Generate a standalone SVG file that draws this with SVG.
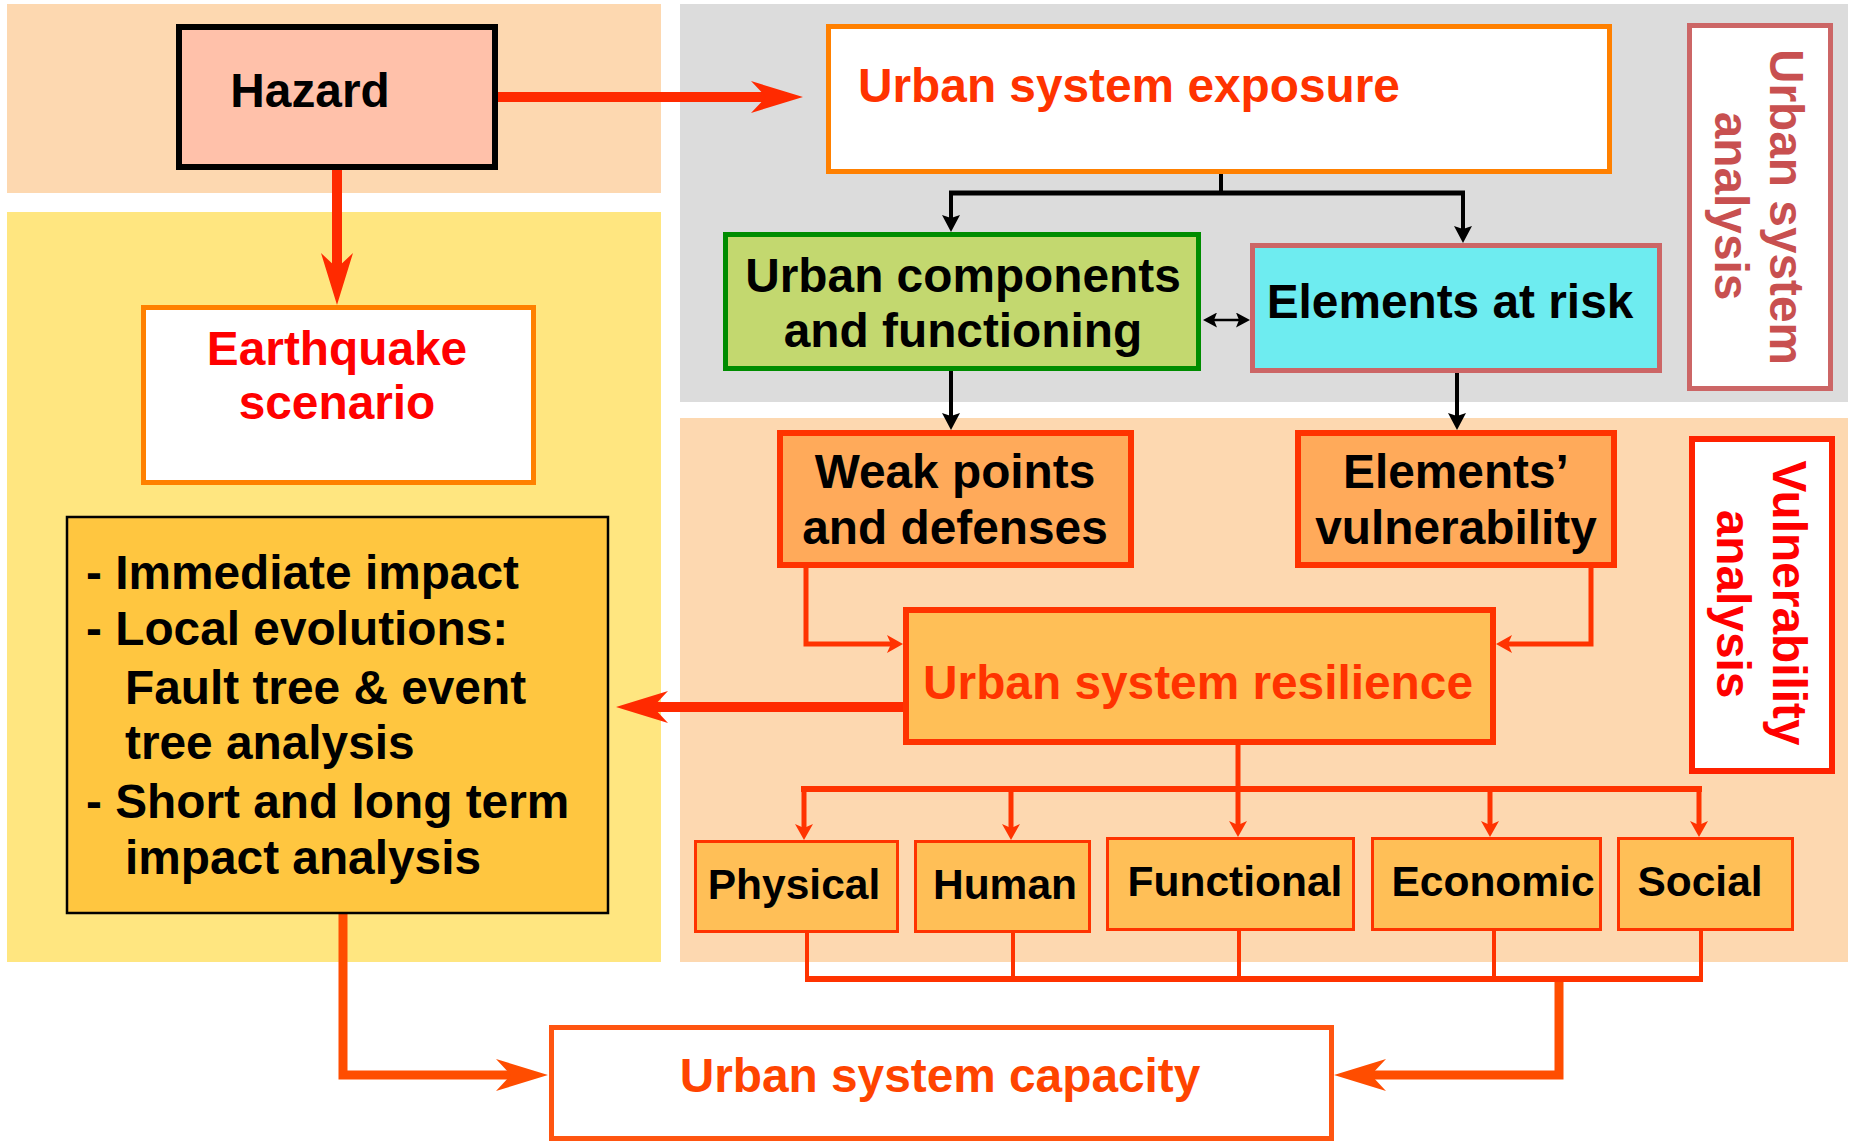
<svg xmlns="http://www.w3.org/2000/svg" width="1855" height="1147" viewBox="0 0 1855 1147">
<style>
text{font-family:"Liberation Sans",Arial,Helvetica,sans-serif;font-weight:bold;font-size:47.8px}
.c{text-anchor:middle}
.k{fill:#000}
.cat{font-size:42.5px;text-anchor:middle;fill:#000}
.ln{fill:none}
.red{stroke:#FF3300;stroke-width:5}
.hz{stroke:#FF2A00;stroke-width:10}
.cap{stroke:#FF4D00;stroke-width:9}
.blk{stroke:#000;stroke-width:4}
.catbox{fill:#FFBF57;stroke:#FF3300;stroke-width:3}
</style>
<defs>
<marker id="big" viewBox="0 0 52 32" markerWidth="52" markerHeight="32" refX="15" refY="16" orient="auto" markerUnits="userSpaceOnUse"><path d="M0,0 L52,16 L0,32 L15,16 Z" fill="#FF2A00"/></marker>
<marker id="bigc" viewBox="0 0 52 32" markerWidth="52" markerHeight="32" refX="15" refY="16" orient="auto" markerUnits="userSpaceOnUse"><path d="M0,0 L52,16 L0,32 L15,16 Z" fill="#FF4D00"/></marker>
<marker id="sm" viewBox="0 0 16 18" markerWidth="16" markerHeight="18" refX="4" refY="9" orient="auto" markerUnits="userSpaceOnUse"><path d="M0,0 L16,9 L0,18 L4,9 Z" fill="#FF3300"/></marker>
<marker id="bk" viewBox="0 0 17 18" markerWidth="17" markerHeight="18" refX="3" refY="9" orient="auto" markerUnits="userSpaceOnUse"><path d="M0,0 L17,9 L0,18 L3,9 Z" fill="#000"/></marker>
<marker id="tk" viewBox="0 0 14 15" markerWidth="14" markerHeight="15" refX="3" refY="7.5" orient="auto-start-reverse" markerUnits="userSpaceOnUse"><path d="M0,0 L14,7.5 L0,15 L3,7.5 Z" fill="#000"/></marker>
</defs>

<g id="backgrounds">
<rect x="7" y="4" width="654" height="189" fill="#FDD8B0"/>
<rect x="7" y="212" width="654" height="750" fill="#FFE680"/>
<rect x="680" y="4" width="1168" height="398" fill="#DCDCDC"/>
<rect x="680" y="418" width="1168" height="544" fill="#FDD8B0"/>
</g>

<g id="connectors">
<path class="ln hz" d="M498,97 H766" marker-end="url(#big)"/>
<path class="ln hz" d="M337,170 V268" marker-end="url(#big)"/>
<path class="ln hz" d="M903,707 H653" marker-end="url(#big)"/>
<path class="ln cap" d="M343,914 V1075 H511" marker-end="url(#bigc)"/>
<path class="ln cap" d="M1559,979 V1075 H1371" marker-end="url(#bigc)"/>
<path class="ln blk" d="M1221,174 V193"/>
<path class="ln" stroke="#000" stroke-width="5" d="M949,193 H1465"/>
<path class="ln blk" d="M951,193 V218" marker-end="url(#bk)"/>
<path class="ln blk" d="M1463,193 V229" marker-end="url(#bk)"/>
<path class="ln blk" d="M951,371 V416" marker-end="url(#bk)"/>
<path class="ln blk" d="M1457,373 V416" marker-end="url(#bk)"/>
<path class="ln" stroke="#000" stroke-width="2.5" d="M1214,320 H1239" marker-start="url(#tk)" marker-end="url(#tk)"/>
<path class="ln red" d="M806,568 V644 H891" marker-end="url(#sm)"/>
<path class="ln red" d="M1591,568 V644 H1508" marker-end="url(#sm)"/>
<path class="ln red" d="M1238,745 V825" marker-end="url(#sm)"/>
<path class="ln" stroke="#FF3300" stroke-width="6" d="M801,789 H1702"/>
<path class="ln red" d="M804,789 V828" marker-end="url(#sm)"/>
<path class="ln red" d="M1011,789 V828" marker-end="url(#sm)"/>
<path class="ln red" d="M1490,789 V825" marker-end="url(#sm)"/>
<path class="ln red" d="M1699,789 V825" marker-end="url(#sm)"/>
<path class="ln" stroke="#FF3300" stroke-width="4" d="M807,933 V979 M1013,933 V979 M1239,931 V979 M1494,931 V979 M1701,931 V979"/>
<path class="ln" stroke="#FF3300" stroke-width="6" d="M805,979 H1703"/>
</g>

<g id="hazard">
<rect x="179" y="27" width="316" height="140" fill="#FFC1AA" stroke="#000" stroke-width="6"/>
<text class="c k" x="310" y="107">Hazard</text>
</g>

<g id="exposure">
<rect x="828.5" y="26.5" width="781" height="145" fill="#fff" stroke="#FF8000" stroke-width="5"/>
<text x="858" y="102" fill="#FF3300">Urban system exposure</text>
</g>

<g id="components">
<rect x="725.5" y="234.5" width="473" height="134" fill="#C3D86F" stroke="#008C00" stroke-width="5"/>
<text class="c k" x="963" y="292">Urban components</text>
<text class="c k" x="963" y="347">and functioning</text>
</g>

<g id="elements-at-risk">
<rect x="1252.5" y="245.5" width="407" height="125" fill="#6EECF0" stroke="#CC6666" stroke-width="5"/>
<text class="c k" x="1450" y="318">Elements at risk</text>
</g>

<g id="urban-system-analysis">
<rect x="1689.5" y="25.5" width="141" height="363" fill="#fff" stroke="#CC6666" stroke-width="5"/>
<text class="c" fill="#C85050" transform="translate(1770,207) rotate(90)">Urban system</text>
<text class="c" fill="#C85050" transform="translate(1715,206) rotate(90)">analysis</text>
</g>

<g id="earthquake">
<rect x="143.5" y="307.5" width="390" height="175" fill="#fff" stroke="#FF8000" stroke-width="5"/>
<text class="c" x="337" y="365" fill="#FF0000">Earthquake</text>
<text class="c" x="337" y="419" fill="#FF0000">scenario</text>
</g>

<g id="impact">
<rect x="67" y="517" width="541" height="396" fill="#FFC640" stroke="#000" stroke-width="2.5"/>
<text class="k" x="86" y="589">- Immediate impact</text>
<text class="k" x="86" y="645">- Local evolutions:</text>
<text class="k" x="125" y="704">Fault tree &amp; event</text>
<text class="k" x="125" y="759">tree analysis</text>
<text class="k" x="86" y="818">- Short and long term</text>
<text class="k" x="125" y="874">impact analysis</text>
</g>

<g id="weak-points">
<rect x="780" y="433" width="351" height="132" fill="#FFAA5A" stroke="#FF3300" stroke-width="6"/>
<text class="c k" x="955" y="488">Weak points</text>
<text class="c k" x="955" y="544">and defenses</text>
</g>

<g id="elements-vulnerability">
<rect x="1298" y="433" width="316" height="132" fill="#FFAA5A" stroke="#FF3300" stroke-width="6"/>
<text class="c k" x="1456" y="488">Elements’</text>
<text class="c k" x="1456" y="544">vulnerability</text>
</g>

<g id="resilience">
<rect x="906" y="610" width="587" height="132" fill="#FFBF57" stroke="#FF3300" stroke-width="6"/>
<text class="c" x="1198" y="699" fill="#FF3300">Urban system resilience</text>
</g>

<g id="vulnerability-analysis">
<rect x="1692" y="439" width="140" height="332" fill="#fff" stroke="#FF2200" stroke-width="6"/>
<text class="c" fill="#FF0000" transform="translate(1773,603) rotate(90)">Vulnerability</text>
<text class="c" fill="#FF0000" transform="translate(1717,604) rotate(90)">analysis</text>
</g>

<g id="physical">
<rect class="catbox" x="695.5" y="841.5" width="202" height="90"/>
<text class="cat" x="794" y="899">Physical</text>
</g>
<g id="human">
<rect class="catbox" x="915.5" y="841.5" width="174" height="90"/>
<text class="cat" x="1005" y="899">Human</text>
</g>
<g id="functional">
<rect class="catbox" x="1107.5" y="838.5" width="246" height="91"/>
<text class="cat" x="1235" y="896">Functional</text>
</g>
<g id="economic">
<rect class="catbox" x="1372.5" y="838.5" width="228" height="91"/>
<text class="cat" x="1493" y="896">Economic</text>
</g>
<g id="social">
<rect class="catbox" x="1618.5" y="838.5" width="174" height="91"/>
<text class="cat" x="1700" y="896">Social</text>
</g>

<g id="capacity">
<rect x="551.5" y="1027.5" width="780" height="111" fill="#fff" stroke="#FF5511" stroke-width="5"/>
<text class="c" x="940" y="1092" fill="#FF4400">Urban system capacity</text>
</g>
</svg>
